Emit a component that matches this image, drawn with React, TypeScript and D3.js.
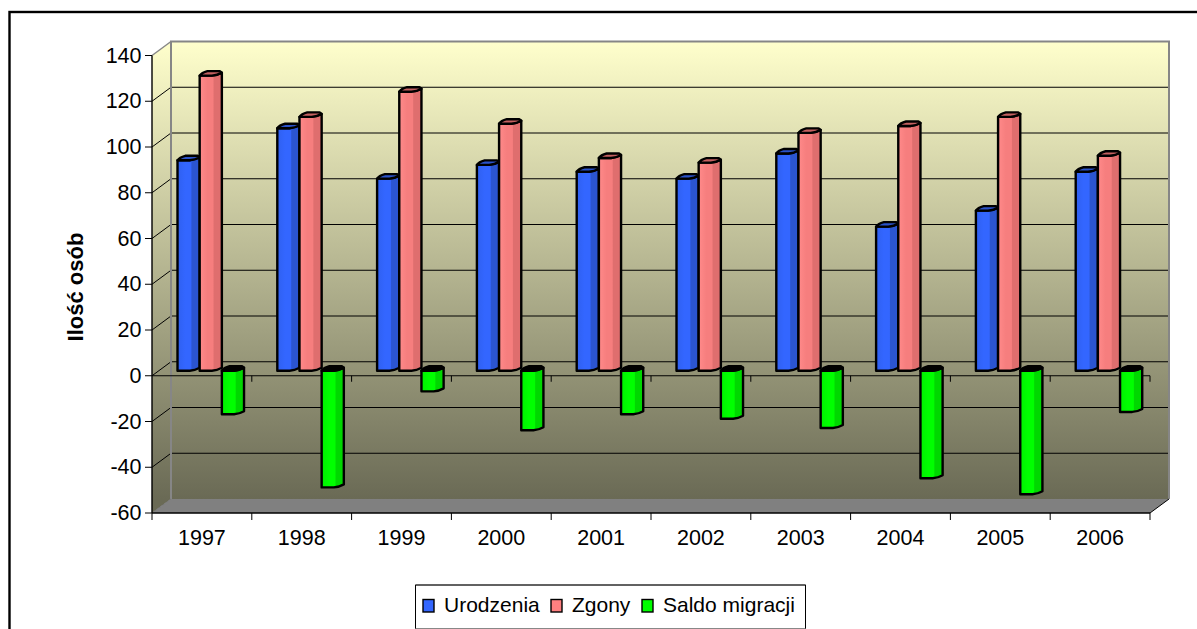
import React from "react";
import * as d3 from "d3";

const years = ["1997", "1998", "1999", "2000", "2001", "2002", "2003", "2004", "2005", "2006"];
const urodzenia = [92, 106, 84, 90, 87, 84, 95, 63, 70, 87];
const zgony = [129, 111, 122, 108, 93, 91, 104, 107, 111, 94];
const saldo = [-19, -51, -9, -26, -19, -21, -25, -47, -54, -18];
const yTicks = [-60, -40, -20, 0, 20, 40, 60, 80, 100, 120, 140];

const seriesNames = ["Urodzenia", "Zgony", "Saldo migracji"];
const seriesValues = [urodzenia, zgony, saldo];
const legendColors = ["#3366ff", "#ff8080", "#00ff00"];
const legendSwatchX = [423, 551, 642];
// left, middle, right of the cylinder shading, then the top cap
const shades = [
  ["#2f60f0", "#3366ff", "#2b55d0", "#2a52c8"],
  ["#ff8a8a", "#f67e7e", "#df6e6e", "#c46060"],
  ["#00f000", "#00ff00", "#00d800", "#000000"],
];

const W = 1197;
const H = 629;
const FONT = "'Liberation Sans', Arial, sans-serif";
const depthX = 19;
const depthY = -14;

const y = d3.scaleLinear().domain([-60, 140]).range([513, 55.5]);
const x = d3.scaleBand().domain(years).range([152, 1150]);
const barW = x.bandwidth() / 4.5;
const inner = d3.scaleBand().domain(seriesNames).range([0, barW * 3]);

const barX = (year: string, name: string) => (x(year) as number) + 25.5 + (inner(name) as number);
const base = y(0) - 5;

function barBody(x0: number, yTop: number, yBot: number, w: number) {
  const x1 = x0 + w;
  const p = d3.path();
  p.moveTo(x0, yTop);
  p.lineTo(x0, yBot);
  p.lineTo(x0 + w * 0.55, yBot);
  p.quadraticCurveTo(x0 + w * 0.8, yBot - 0.5, x1, yBot - 3);
  p.lineTo(x1, yTop - 3);
  p.quadraticCurveTo(x0 + w * 0.8, yTop - 0.5, x0 + w * 0.55, yTop);
  p.closePath();
  return p.toString();
}

function barCap(x0: number, yTop: number, w: number) {
  const x1 = x0 + w;
  const p = d3.path();
  p.moveTo(x0, yTop);
  p.quadraticCurveTo(x0 + 2, yTop - 3, x0 + w * 0.35, yTop - 4.5);
  p.lineTo(x1 - 2, yTop - 4.5);
  p.lineTo(x1, yTop - 3);
  p.quadraticCurveTo(x0 + w * 0.8, yTop - 0.5, x0 + w * 0.55, yTop);
  p.closePath();
  return p.toString();
}

export default function App() {
  const [left, right] = x.range();
  return (
    <svg
      width={W}
      height={H}
      viewBox={`0 0 ${W} ${H}`}
      style={{ position: "absolute", left: 0, top: 0, background: "#fff", fontFamily: FONT }}
    >
      <defs>
        <linearGradient id="wall" gradientUnits="userSpaceOnUse" x1="0" y1={y(140) + depthY} x2="0" y2={y(-60) + depthY}>
          <stop offset="0" stopColor="#ffffcc" />
          <stop offset="1" stopColor="#6a6a55" />
        </linearGradient>
        {shades.map((s, i) => (
          <linearGradient key={i} id={`bar${i}`} x1="0" x2="1" y1="0" y2="0">
            <stop offset="0" stopColor={s[0]} />
            <stop offset="0.35" stopColor={s[1]} />
            <stop offset="0.6" stopColor={s[1]} />
            <stop offset="0.65" stopColor={s[2]} />
            <stop offset="1" stopColor={s[2]} />
          </linearGradient>
        ))}
      </defs>

      <rect x={9.5} y={12} width={W + 10} height={H + 10} fill="#fff" stroke="#000" strokeWidth={2.4} />

      {/* side wall, back wall, floor */}
      <polygon
        points={`${left},${y(140)} ${left + depthX},${y(140) + depthY} ${left + depthX},${y(-60) + depthY} ${left},${y(-60)}`}
        fill="url(#wall)"
      />
      <rect x={left + depthX} y={y(140) + depthY} width={right - left} height={y(-60) - y(140)} fill="url(#wall)" />
      <polygon
        points={`${left},${y(-60)} ${left + depthX},${y(-60) + depthY} ${right + depthX},${y(-60) + depthY} ${right},${y(-60)}`}
        fill="#808080"
      />

      {/* gridlines on the walls */}
      {yTicks.map((t) => (
        <g key={t} fill="none" strokeWidth={1}>
          {t !== 140 && t !== -60 && (
            <line x1={left + depthX} x2={right + depthX} y1={y(t) + depthY} y2={y(t) + depthY} stroke="#000" />
          )}
          {t !== -60 && (
            <line
              x1={left}
              x2={left + depthX}
              y1={y(t)}
              y2={y(t) + depthY}
              stroke={t === 140 ? "#888" : "#000"}
              strokeWidth={t === 140 ? 1.5 : 1}
            />
          )}
        </g>
      ))}
      <path
        d={`M${left + depthX},${y(-60) + depthY} V${y(140) + depthY} H${right + depthX} V${y(-60) + depthY}`}
        fill="none"
        stroke="#868686"
        strokeWidth={2}
      />
      <line x1={left} x2={left + depthX} y1={y(-60)} y2={y(-60) + depthY} stroke="#777" />
      <line x1={right} x2={right + depthX} y1={y(-60)} y2={y(-60) + depthY} stroke="#000" />

      {/* zero line with its ticks */}
      <line x1={left} x2={right} y1={y(0)} y2={y(0)} stroke="#000" />
      {years.map((yr) => (
        <line
          key={yr}
          x1={(x(yr) as number) + x.bandwidth()}
          x2={(x(yr) as number) + x.bandwidth()}
          y1={y(0)}
          y2={y(0) + 6}
          stroke="#000"
        />
      ))}

      {/* bars, drawn after the axes */}
      {years.map((yr, j) =>
        seriesNames.map((name, i) => {
          const v = seriesValues[i][j];
          const x0 = barX(yr, name);
          const end = base - (y(0) - y(v));
          const yTop = v >= 0 ? end : base;
          const yBot = v >= 0 ? base : end;
          return (
            <g key={name} stroke="#000" strokeWidth={2.4} strokeLinejoin="round">
              <path d={barBody(x0, yTop, yBot, barW)} fill={`url(#bar${i})`} />
              <path d={barCap(x0, yTop, barW)} fill={shades[i][3]} />
            </g>
          );
        })
      )}

      {/* front axes */}
      <line x1={left} x2={right} y1={y(-60)} y2={y(-60)} stroke="#000" strokeWidth={1.4} />
      <line x1={left} x2={left} y1={y(140)} y2={y(-60)} stroke="#000" strokeWidth={1.4} />
      {yTicks.map((t) => (
        <g key={t}>
          <line x1={left - 7} x2={left} y1={y(t)} y2={y(t)} stroke="#000" />
          <text x={left - 10.5} y={y(t) + 7} textAnchor="end" fontSize={21.5} fill="#000">
            {t}
          </text>
        </g>
      ))}
      <line x1={left} x2={left} y1={y(-60)} y2={y(-60) + 7} stroke="#000" />
      {years.map((yr) => (
        <g key={yr}>
          <line
            x1={(x(yr) as number) + x.bandwidth()}
            x2={(x(yr) as number) + x.bandwidth()}
            y1={y(-60)}
            y2={y(-60) + 7}
            stroke="#000"
          />
          <text x={(x(yr) as number) + x.bandwidth() / 2} y={545} textAnchor="middle" fontSize={21.5} fill="#000">
            {yr}
          </text>
        </g>
      ))}

      <text transform="translate(83,287) rotate(-90)" textAnchor="middle" fontSize={22} fontWeight="bold" fill="#000">
        Ilość osób
      </text>

      {/* legend */}
      <rect x={415.5} y={585} width={390} height={43.5} fill="#fff" stroke="#888" strokeWidth={1} />
      <path d="M415.5,628.5 V585 H805.5 V628.5" fill="none" stroke="#000" strokeWidth={1} />
      {seriesNames.map((name, i) => (
        <g key={name}>
          <rect
            x={legendSwatchX[i]}
            y={599.5}
            width={11}
            height={12.5}
            fill={legendColors[i]}
            stroke="#000"
            strokeWidth={1.4}
          />
          <text x={legendSwatchX[i] + 21} y={612} fontSize={21} fill="#000">
            {name}
          </text>
        </g>
      ))}
    </svg>
  );
}
